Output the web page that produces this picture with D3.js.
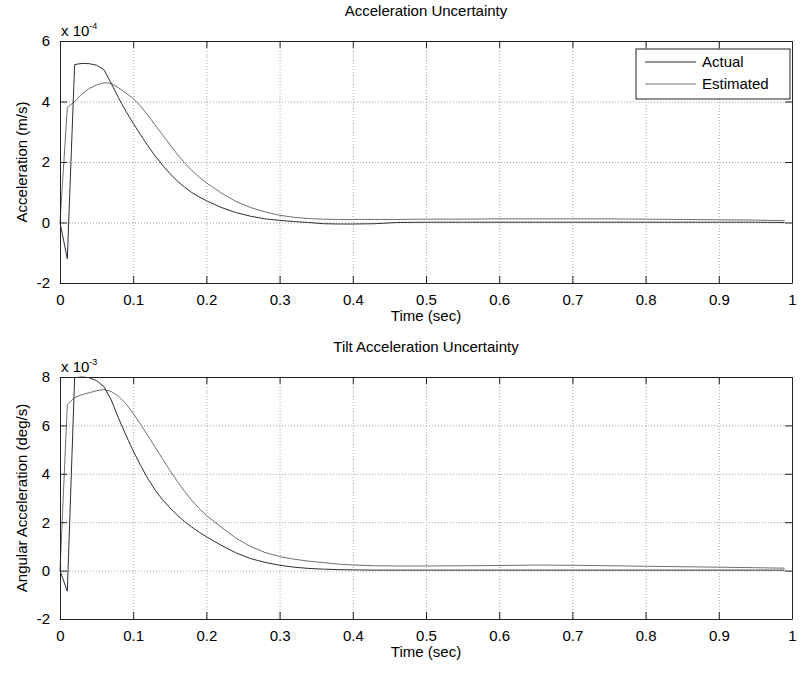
<!DOCTYPE html>
<html>
<head>
<meta charset="utf-8">
<script src="https://cdn.jsdelivr.net/npm/d3@7"></script>
<style>
  body { margin: 0; background: #fff; }
  text { font-family: "Liberation Sans", Arial, sans-serif; fill: #000; }
</style>
</head>
<body>
<div id="plot"></div>
<script>
// Data

const timeSec = [0, 0.01, 0.02, 0.03, 0.04, 0.05, 0.06, 0.07, 0.08, 0.09,
  0.10, 0.11, 0.12, 0.13, 0.14, 0.15, 0.16, 0.17, 0.18, 0.19,
  0.20, 0.22, 0.24, 0.26, 0.28, 0.30, 0.32, 0.34, 0.36, 0.38,
  0.40, 0.43, 0.46, 0.50, 0.55, 0.60, 0.65, 0.70, 0.75, 0.80,
  0.85, 0.90, 0.95, 0.99];

// acceleration, x 10^-4 m/s
const accelActual = [0, -1.2, 5.22, 5.26, 5.25, 5.2, 5.05, 4.6, 4.12, 3.68,
  3.28, 2.9, 2.54, 2.2, 1.9, 1.62, 1.38, 1.17, 0.99, 0.85,
  0.72, 0.5, 0.33, 0.21, 0.12, 0.07, 0.03, 0.0, -0.04, -0.05,
  -0.05, -0.04, 0.0, 0.01, 0.01, 0.01, 0.01, 0.01, 0.01, 0.01,
  0.01, 0.01, 0.01, 0.0];
const accelEstimated = [0, 3.8, 4.0, 4.25, 4.43, 4.55, 4.62, 4.6, 4.45, 4.28,
  4.1, 3.85, 3.55, 3.22, 2.9, 2.58, 2.26, 1.98, 1.72, 1.5,
  1.31, 0.98, 0.7, 0.5, 0.35, 0.24, 0.17, 0.13, 0.11, 0.1,
  0.1, 0.1, 0.1, 0.11, 0.11, 0.12, 0.12, 0.12, 0.12, 0.11,
  0.1, 0.09, 0.08, 0.06];

// angular acceleration, x 10^-3 deg/s
const tiltActual = [0, -0.85, 7.97, 8.0, 7.97, 7.85, 7.6, 7.05, 6.3, 5.6,
  4.95, 4.35, 3.8, 3.33, 2.93, 2.6, 2.3, 2.03, 1.8, 1.59,
  1.4, 1.05, 0.74, 0.5, 0.34, 0.22, 0.14, 0.09, 0.06, 0.04,
  0.03, 0.02, 0.02, 0.02, 0.02, 0.02, 0.02, 0.02, 0.02, 0.02,
  0.02, 0.02, 0.02, 0.02];
const tiltEstimated = [0, 6.85, 7.15, 7.27, 7.35, 7.43, 7.48, 7.4, 7.2, 6.9,
  6.5, 6.05, 5.58, 5.1, 4.62, 4.15, 3.7, 3.28, 2.9, 2.57,
  2.28, 1.8, 1.35, 1.0, 0.75, 0.58, 0.47, 0.39, 0.33, 0.27,
  0.23, 0.2, 0.19, 0.19, 0.2, 0.21, 0.23, 0.22, 0.2, 0.18,
  0.16, 0.14, 0.12, 0.1];

const xTicks = [0, 0.1, 0.2, 0.3, 0.4, 0.5, 0.6, 0.7, 0.8, 0.9, 1];
const accelTicks = [-2, 0, 2, 4, 6];
const tiltTicks = [-2, 0, 2, 4, 6, 8];
const seriesNames = ["Actual", "Estimated"];
const seriesColors = ["#2e2e3c", "#707070"];

const w = 801;
const h = 677;

const svg = d3.select("div#plot")
  .append("svg")
  .attr("width", w)
  .attr("height", h);

const panels = [
  {title: "Acceleration Uncertainty", ylabel: "Acceleration (m/s)", exp: "-4",
    top: 41, bottom: 283, domain: [-2, 6], ticks: accelTicks,
    actual: accelActual, estimated: accelEstimated, legend: true},
  {title: "Tilt Acceleration Uncertainty", ylabel: "Angular Acceleration (deg/s)", exp: "-3",
    top: 377, bottom: 619, domain: [-2, 8], ticks: tiltTicks,
    actual: tiltActual, estimated: tiltEstimated, legend: false}
];

const left = 60, right = 792;
const tickLen = 7;

const xScale = d3.scaleLinear().domain([0, 1]).range([left, right]);

panels.forEach(function(p) {
  const yScale = d3.scaleLinear().domain(p.domain).range([p.bottom, p.top]);
  const g = svg.append("g");
  const ih = p.bottom - p.top;
  const iw = right - left;

  // grid
  g.append("g")
    .attr("transform", `translate(0, ${p.bottom})`)
    .call(d3.axisBottom(xScale).tickValues(xTicks).tickSize(-ih).tickFormat(""))
    .call(a => a.select(".domain").remove())
    .selectAll("line")
    .attr("stroke", "#a0a0a0")
    .attr("stroke-dasharray", "1,2");

  g.append("g")
    .attr("transform", `translate(${left}, 0)`)
    .call(d3.axisLeft(yScale).tickValues(p.ticks).tickSize(-iw).tickFormat(""))
    .call(a => a.select(".domain").remove())
    .selectAll("line")
    .attr("stroke", "#a0a0a0")
    .attr("stroke-dasharray", "1,2");

  // lines
  const line = d3.line()
    .x((d, i) => xScale(timeSec[i]))
    .y(d => yScale(d));

  g.append("path")
    .datum(p.estimated)
    .attr("fill", "none")
    .attr("stroke", seriesColors[1])
    .attr("stroke-width", 1)
    .attr("d", line);

  g.append("path")
    .datum(p.actual)
    .attr("fill", "none")
    .attr("stroke", seriesColors[0])
    .attr("stroke-width", 1)
    .attr("d", line);

  // axes, ticks inside
  const xb = g.append("g")
    .attr("transform", `translate(0, ${p.bottom})`)
    .call(d3.axisBottom(xScale).tickValues(xTicks).tickSizeInner(-tickLen).tickSizeOuter(0)
      .tickPadding(11).tickFormat(d => d));
  const xt = g.append("g")
    .attr("transform", `translate(0, ${p.top})`)
    .call(d3.axisTop(xScale).tickValues(xTicks).tickSizeInner(-tickLen).tickSizeOuter(0).tickFormat(""));
  const yl = g.append("g")
    .attr("transform", `translate(${left}, 0)`)
    .call(d3.axisLeft(yScale).tickValues(p.ticks).tickSizeInner(-tickLen).tickSizeOuter(0)
      .tickPadding(10).tickFormat(d => d));
  const yr = g.append("g")
    .attr("transform", `translate(${right}, 0)`)
    .call(d3.axisRight(yScale).tickValues(p.ticks).tickSizeInner(-tickLen).tickSizeOuter(0).tickFormat(""));

  [xb, xt, yl, yr].forEach(a => {
    a.select(".domain").attr("stroke", "#222");
    a.selectAll("line").attr("stroke", "#222");
    a.selectAll("text").attr("font-size", 15).attr("font-family", "Liberation Sans, Arial, sans-serif").attr("fill", "#000");
  });

  // title and labels
  g.append("text")
    .attr("x", (left + right) / 2)
    .attr("y", p.top - 25)
    .attr("text-anchor", "middle")
    .attr("font-size", 15)
    .text(p.title);

  g.append("text")
    .attr("x", (left + right) / 2)
    .attr("y", p.bottom + 38)
    .attr("text-anchor", "middle")
    .attr("font-size", 15)
    .text("Time (sec)");

  g.append("text")
    .attr("transform", `translate(27, ${(p.top + p.bottom) / 2}) rotate(-90)`)
    .attr("text-anchor", "middle")
    .attr("font-size", 15)
    .text(p.ylabel);

  const ex = g.append("text")
    .attr("x", left + 1)
    .attr("y", p.top - 5)
    .attr("font-size", 15);
  ex.append("tspan").text("x 10");
  ex.append("tspan").attr("font-size", 9).attr("dy", -7).text(p.exp);

  // legend
  if (p.legend) {
    const lg = g.append("g");
    lg.append("rect")
      .attr("x", 636).attr("y", 49)
      .attr("width", 154).attr("height", 50)
      .attr("fill", "#fff")
      .attr("stroke", "#222");
    seriesNames.forEach((name, i) => {
      const yy = 62 + i * 22;
      lg.append("line")
        .attr("x1", 645).attr("x2", 696)
        .attr("y1", yy).attr("y2", yy)
        .attr("stroke", seriesColors[i]);
      lg.append("text")
        .attr("x", 702).attr("y", yy + 5)
        .attr("font-size", 15)
        .text(name);
    });
  }
});
</script>
</body>
</html>
